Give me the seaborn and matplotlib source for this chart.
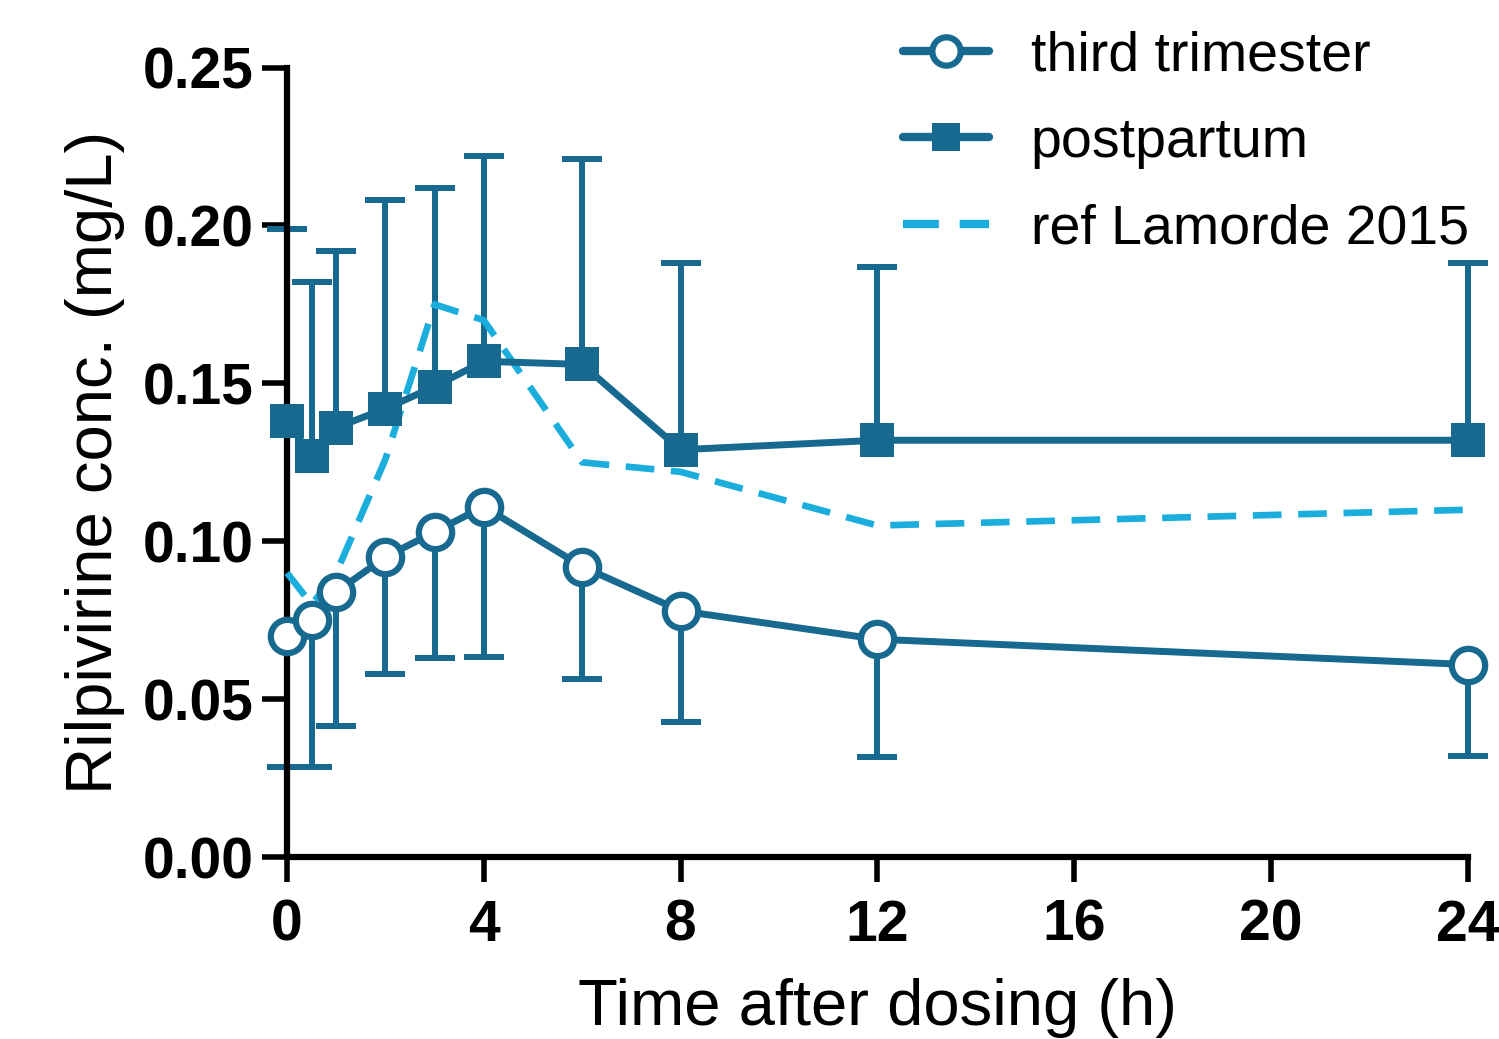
import numpy as np
import pandas as pd
import matplotlib.pyplot as plt
import seaborn as sns

time = [0, 0.5, 1, 2, 3, 4, 6, 8, 12, 24]

third_mean = [0.070, 0.075, 0.084, 0.095, 0.103, 0.111, 0.092, 0.078, 0.069, 0.061]
third_lower = [0.0285, 0.0285, 0.0415, 0.058, 0.063, 0.0634, 0.0564, 0.0428, 0.0317, 0.032]

post_mean = [0.138, 0.127, 0.136, 0.142, 0.149, 0.157, 0.156, 0.129, 0.132, 0.132]
post_upper = [0.199, 0.182, 0.192, 0.208, 0.212, 0.222, 0.221, 0.188, 0.187, 0.188]

ref_time = [0, 0.5, 1, 2, 3, 4, 6, 8, 12, 24]
ref_mean = [0.090, 0.080, 0.090, 0.126, 0.175, 0.170, 0.125, 0.122, 0.105, 0.110]

dark = "#17698F"
light = "#1BAEDD"

sns.set_style("ticks")
plt.rcParams["font.family"] = ["Liberation Sans", "DejaVu Sans"]
plt.rcParams.update({"text.color": "black", "axes.labelcolor": "black",
                     "xtick.color": "black", "ytick.color": "black"})

fig = plt.figure(figsize=(14.99, 10.39), dpi=100)
ax = fig.add_axes([0.1915, 0.175, 0.7875, 0.76])

df_third = pd.DataFrame({"time": time, "conc": third_mean})
df_post = pd.DataFrame({"time": time, "conc": post_mean})
df_ref = pd.DataFrame({"time": ref_time, "conc": ref_mean})

# one-sided SD bars: stems plus a single cap at the far end
ew = 4.3
ax.vlines(time, third_lower, third_mean, color=dark, lw=ew, zorder=2)
ax.vlines(time, post_mean, post_upper, color=dark, lw=ew, zorder=2)
ax.errorbar(time, third_lower, yerr=0, fmt="none", ecolor=dark,
            elinewidth=0, capsize=14.5, capthick=ew, zorder=2)
ax.errorbar(time, post_upper, yerr=0, fmt="none", ecolor=dark,
            elinewidth=0, capsize=14.5, capthick=ew, zorder=2)

sns.lineplot(data=df_ref, x="time", y="conc", ax=ax, color=light, lw=4.8,
             zorder=3, label="ref Lamorde 2015")
ax.lines[-1].set_dashes((4.3, 2.5))
sns.lineplot(data=df_post, x="time", y="conc", ax=ax, color=dark, lw=5,
             marker="s", markersize=24, markeredgewidth=0, markerfacecolor=dark,
             zorder=4, label="postpartum")
sns.lineplot(data=df_third, x="time", y="conc", ax=ax, color=dark, lw=5,
             marker="o", markersize=24, markeredgewidth=4.5, markeredgecolor=dark,
             markerfacecolor="white", zorder=5, label="third trimester")

ax.set_xlim(0, 24)
ax.set_ylim(0, 0.25)
ax.set_xticks([0, 4, 8, 12, 16, 20, 24])
ax.set_yticks([0.00, 0.05, 0.10, 0.15, 0.20, 0.25])
ax.set_yticklabels(["0.00", "0.05", "0.10", "0.15", "0.20", "0.25"])
for lab in ax.get_xticklabels() + ax.get_yticklabels():
    lab.set_fontweight("bold")
ax.tick_params(axis="both", labelsize=41, width=4, length=18, color="black")
ax.tick_params(axis="x", pad=12)
ax.tick_params(axis="y", pad=6)
ax.set_xlabel("Time after dosing (h)", fontsize=47, labelpad=18)
ax.set_ylabel("Rilpivirine conc. (mg/L)", fontsize=47, labelpad=13)

sns.despine(ax=ax)
for s in ["left", "bottom"]:
    ax.spines[s].set_linewidth(4.5)
    ax.spines[s].set_color("black")
for ln in ax.lines:
    ln.set_clip_on(False)
for c in ax.collections:
    c.set_clip_on(False)

handles, labels = ax.get_legend_handles_labels()
order = [labels.index("third trimester"), labels.index("postpartum"), labels.index("ref Lamorde 2015")]
leg = ax.legend([handles[i] for i in order], [labels[i] for i in order],
                loc="upper left", bbox_to_anchor=(0.58, 1.003), bbox_transform=fig.transFigure,
                frameon=False, fontsize=40, handlelength=1.55, handletextpad=0.75,
                labelspacing=0.62, borderpad=0.1, markerscale=0.85)
for h in leg.legend_handles:
    h.set_linewidth(6)

fig.savefig("out.png", dpi=100)
